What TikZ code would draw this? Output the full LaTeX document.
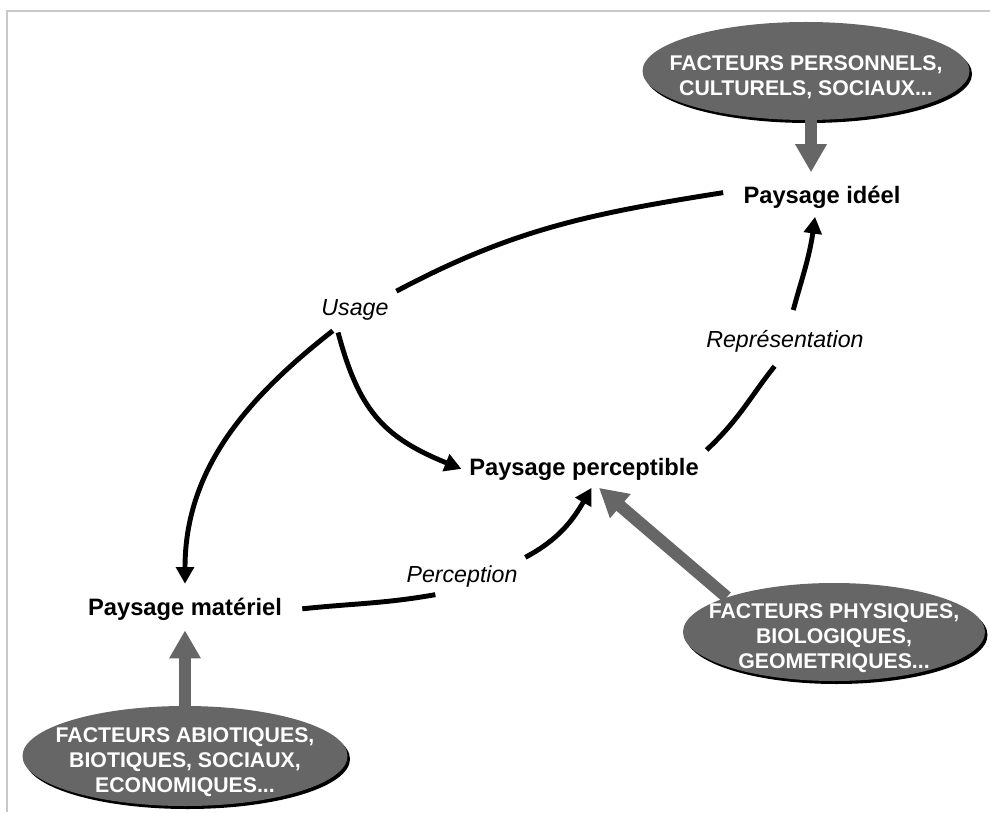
\documentclass[tikz,border=0pt]{standalone}
\usepackage{fontspec}
\setmainfont{Liberation Sans}
\usetikzlibrary{arrows.meta,shapes.geometric,shadows}
\definecolor{facgray}{RGB}{102,102,102}
\definecolor{framegray}{RGB}{200,200,200}
\tikzset{
  paysage/.style={font=\fontsize{13.5pt}{16pt}\selectfont\bfseries, inner xsep=0.4cm, inner ysep=0.15cm, anchor=base},
  lbl/.style={font=\fontsize{13.2pt}{16pt}\selectfont\itshape, inner sep=0.15cm, anchor=base},
  facteur/.style={ellipse, fill=facgray, inner sep=0pt,
    drop shadow={fill=black, opacity=1, shadow xshift=0.05cm, shadow yshift=-0.06cm}},
  factext/.style={text=white, align=center, yshift=-0.12cm,
    font=\fontsize{12.1pt}{14.2pt}\selectfont\bfseries},
  facarrow/.style={draw=facgray, line width=7pt, -{Triangle[width=17pt,length=16pt]}},
  seg/.style={line width=2.8pt},
  blk/.style={seg, -{Triangle[width=10pt,length=9.5pt]}}
}
\begin{document}
\begin{tikzpicture}
  \useasboundingbox (0,0) rectangle (19.8,16.24);
  \draw[framegray, line width=0.6pt] (0.14,0) -- (0.14,16.02) -- (19.8,16.02);

  % les trois paysages
  \node[paysage] (ideel) at (16.44,12.16) {Paysage idéel};
  \node[paysage, inner xsep=0.15cm] (percep) at (11.68,6.74) {Paysage perceptible};
  \node[paysage] (materiel) at (3.70,3.94) {Paysage matériel};

  \node[lbl] (usage) at (7.10,9.94) {Usage};
  \node[lbl] (repres) at (15.70,9.30) {Représentation};
  \node[lbl] (perc) at (9.24,4.60) {Perception};

  % facteurs
  \node[facteur, minimum width=6.54cm, minimum height=1.96cm] (pers) at (16.12,14.82) {};
  \node[factext] (perstxt) at (pers) {FACTEURS PERSONNELS,\\CULTURELS, SOCIAUX...};
  \node[facteur, minimum width=6.04cm, minimum height=1.96cm] (phys) at (16.68,3.60) {};
  \node[factext] (physTxt) at (phys) {FACTEURS PHYSIQUES,\\BIOLOGIQUES,\\GEOMETRIQUES...};
  \node[facteur, minimum width=6.5cm, minimum height=2cm] (abio) at (3.70,1.12) {};
  \node[factext] (abiotxt) at (abio) {FACTEURS ABIOTIQUES,\\BIOTIQUES, SOCIAUX,\\ECONOMIQUES...};

  \draw[facarrow, shorten >=0.13cm] ([xshift=0.1cm]pers.south) -- ([xshift=0.1cm]pers.south |- ideel.north);
  \draw[facarrow, shorten >=0.05cm] (abio.north) -- (abio.north |- materiel.south);
  \draw[facarrow] (phys.162) -- ([xshift=0.3cm]percep.south);

  % cycle
  \draw[seg] (ideel.177) to[out=189, in=28] (usage.north east);
  \draw[blk, shorten <=0.1cm, shorten >=0.12cm] (usage.225) to[out=218, in=90] (materiel.north);
  \draw[blk, shorten <=0.1cm] (usage.225) to[out=285, in=158, looseness=1.15] (percep.west);
  \draw[seg] (materiel.east) to[out=6, in=190] (perc.215);
  \draw[blk] (perc.north east) to[out=28, in=240] ([xshift=0.15cm]percep.south);
  \draw[seg, shorten >=0.17cm] (percep.north east) to[out=43, in=231] (repres.255);
  \draw[blk, shorten <=0.25cm] (repres.75) to[out=75, in=262] (ideel.250);
\end{tikzpicture}
\end{document}
